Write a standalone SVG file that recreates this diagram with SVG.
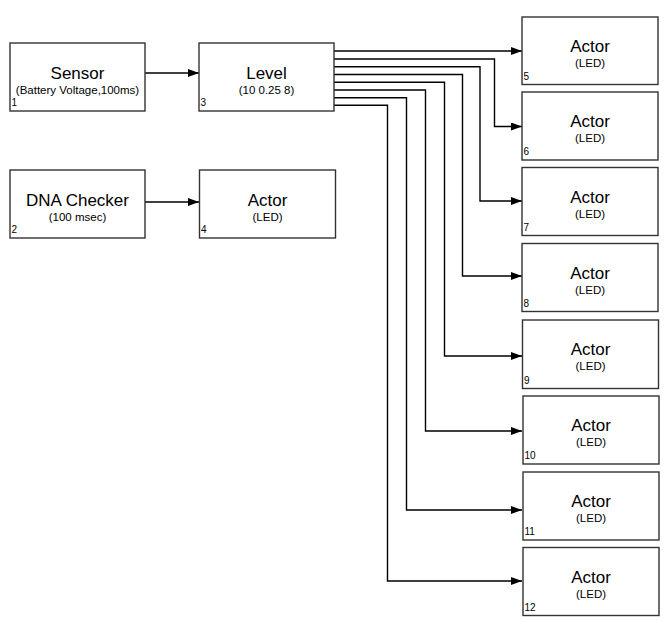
<svg xmlns="http://www.w3.org/2000/svg" width="666" height="620" viewBox="0 0 666 620">
<style>
.box{fill:#fff;stroke:#333;stroke-width:1.4}
.t{font-family:"Liberation Sans",Arial,sans-serif;fill:#000;text-anchor:middle}
.title{font-size:17px}
.sub{font-size:11.5px}
.num{font-family:"Liberation Sans",Arial,sans-serif;font-size:10px;fill:#000}
.c{fill:none;stroke:#000;stroke-width:1.4}
</style>
<defs>
<marker id="ah" markerWidth="11" markerHeight="8" refX="11" refY="4" orient="auto" markerUnits="userSpaceOnUse">
<path d="M0,0 L11,4 L0,8 z" fill="#000"/>
</marker>
</defs>
<rect width="666" height="620" fill="#fff"/>
<g id="connectors">
<path class="c" marker-end="url(#ah)" d="M145,73 H199"/>
<path class="c" marker-end="url(#ah)" d="M145,202 H199"/>
<path class="c" marker-end="url(#ah)" d="M334,51 H522"/>
<path class="c" marker-end="url(#ah)" d="M334,59 H494.5 V126.5 H522"/>
<path class="c" marker-end="url(#ah)" d="M334,66.7 H480 V201 H522"/>
<path class="c" marker-end="url(#ah)" d="M334,74.5 H462.5 V276 H522"/>
<path class="c" marker-end="url(#ah)" d="M334,82.3 H444.5 V356 H522"/>
<path class="c" marker-end="url(#ah)" d="M334,90 H425.5 V431 H522"/>
<path class="c" marker-end="url(#ah)" d="M334,97.7 H406.5 V510 H522"/>
<path class="c" marker-end="url(#ah)" d="M334,105.3 H387.5 V581 H522"/>
</g>
<g id="n1"><rect class="box" x="10" y="43" width="135" height="68"/><text class="t title" x="77.5" y="79">Sensor</text><text class="t sub" x="77.5" y="93.5">(Battery Voltage,100ms)</text><text class="num" x="11.5" y="106">1</text></g>
<g id="n3"><rect class="box" x="199" y="43" width="135" height="68"/><text class="t title" x="266.5" y="79">Level</text><text class="t sub" x="266.5" y="93.5">(10 0.25 8)</text><text class="num" x="200.5" y="106">3</text></g>
<g id="n2"><rect class="box" x="10" y="170" width="135" height="68"/><text class="t title" x="77.5" y="206">DNA Checker</text><text class="t sub" x="77.5" y="220.5">(100 msec)</text><text class="num" x="11.5" y="233">2</text></g>
<g id="n4"><rect class="box" x="199.5" y="170" width="136" height="68"/><text class="t title" x="267.5" y="206">Actor</text><text class="t sub" x="267.5" y="220.5">(LED)</text><text class="num" x="201" y="233">4</text></g>
<g id="n5"><rect class="box" x="522" y="17" width="136" height="67.5"/><text class="t title" x="590" y="52">Actor</text><text class="t sub" x="590" y="67">(LED)</text><text class="num" x="523.5" y="79.5">5</text></g>
<g id="n6"><rect class="box" x="522" y="92" width="136" height="68"/><text class="t title" x="590" y="127">Actor</text><text class="t sub" x="590" y="142">(LED)</text><text class="num" x="523.5" y="155">6</text></g>
<g id="n7"><rect class="box" x="522" y="167.5" width="136" height="68"/><text class="t title" x="590" y="202.5">Actor</text><text class="t sub" x="590" y="217.5">(LED)</text><text class="num" x="523.5" y="230.5">7</text></g>
<g id="n8"><rect class="box" x="522" y="243.5" width="136" height="68"/><text class="t title" x="590" y="278.5">Actor</text><text class="t sub" x="590" y="293.5">(LED)</text><text class="num" x="523.5" y="306.5">8</text></g>
<g id="n9"><rect class="box" x="522.5" y="320" width="136" height="68.5"/><text class="t title" x="590.5" y="355">Actor</text><text class="t sub" x="590.5" y="370">(LED)</text><text class="num" x="524" y="383.5">9</text></g>
<g id="n10"><rect class="box" x="523" y="396" width="136" height="68"/><text class="t title" x="591" y="431">Actor</text><text class="t sub" x="591" y="446">(LED)</text><text class="num" x="524.5" y="459">10</text></g>
<g id="n11"><rect class="box" x="523" y="472" width="136" height="68"/><text class="t title" x="591" y="507">Actor</text><text class="t sub" x="591" y="522">(LED)</text><text class="num" x="524.5" y="535">11</text></g>
<g id="n12"><rect class="box" x="523" y="547.5" width="136" height="68"/><text class="t title" x="591" y="582.5">Actor</text><text class="t sub" x="591" y="597.5">(LED)</text><text class="num" x="524.5" y="610.5">12</text></g>
</svg>
